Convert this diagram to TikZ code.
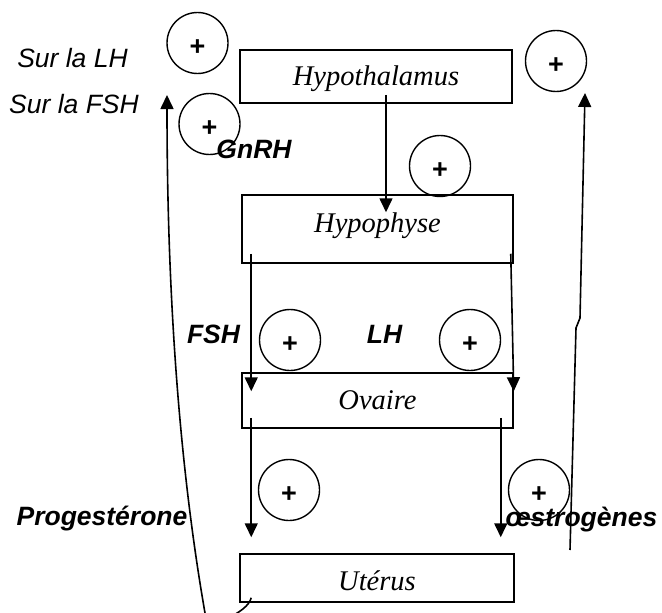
\documentclass[tikz,border=0pt]{standalone}
\usepackage{fontspec}
\setmainfont{Liberation Serif}
\setsansfont{Liberation Sans}
\usetikzlibrary{arrows.meta,calc}
\begin{document}
\begin{tikzpicture}[x=1pt,y=-1pt,
  box/.style={draw,line width=1.5pt,rectangle,inner sep=0pt,font=\fontsize{28.5}{30}\selectfont\itshape},
  pcirc/.style={draw,circle,line width=1.4pt,minimum size=61pt,inner sep=0pt,font=\fontsize{27}{28}\selectfont\sffamily\bfseries,text height=25pt,text depth=0pt},
  lab/.style={anchor=base,inner sep=0pt,font=\fontsize{26.5}{28}\selectfont\sffamily\itshape},
  blab/.style={anchor=base,inner sep=0pt,font=\fontsize{26.5}{28}\selectfont\sffamily\bfseries\itshape},
  arr/.style={line width=1.6pt,-{Triangle[width=13pt,length=14pt]}},
]
\useasboundingbox (0,0) rectangle (662,613);

% boxes
\node[box,minimum width=272pt,minimum height=53pt,text height=20pt,text depth=3pt] (hyth) at (376,76.5) {Hypothalamus};
\node[box,minimum width=271pt,minimum height=68pt,text height=20pt,text depth=14pt] (hyph) at (377.5,229) {Hypophyse};
\node[box,minimum width=271pt,minimum height=55pt,text height=20pt,text depth=3pt] (ova) at (377.5,400.5) {Ovaire};
\node[box,minimum width=274pt,minimum height=48pt,text height=26pt,text depth=2pt] (ut) at (377,578) {Utérus};

% plus circles
\node[pcirc] (c1) at (197.5,43) {+};
\node[pcirc] (c2) at (209.5,124) {+};
\node[pcirc] (c3) at (556,61) {+};
\node[pcirc] (c4) at (440,166) {+};
\node[pcirc] (c5) at (290,340) {+};
\node[pcirc] (c6) at (470,340) {+};
\node[pcirc] (c7) at (289,490) {+};
\node[pcirc] (c8) at (539,490) {+};

% labels
\node[lab] (surlh) at (72.5,67) {Sur la LH};
\node[lab] (surfsh) at (74,113) {Sur la FSH};
\node[blab] (gnrh) at (254,158) {GnRH};
\node[blab] (fsh) at (213.5,343) {FSH};
\node[blab] (lh) at (384.5,343) {LH};
\node[blab] (prog) at (102,525) {Progestérone};
\node[blab] (oes) at (581.5,526) {œstrogènes};

% main arrows
\draw[arr] ($(hyth.south)+(10,-9)$) -- ($(hyph.north)+(8.5,18)$);
\draw[arr] ($(hyph.south west)+(10,-10)$) -- ($(ova.north west)+(10,19)$);
\draw[arr] ($(hyph.south east)+(-3,-10)$) -- ($(ova.north east)+(0,19)$);
\draw[arr] ($(ova.south west)+(10,-11)$) -- ($(ut.north west)+(12,-16)$);
\draw[arr] ($(ova.south east)+(-13,-11)$) -- ($(ut.north east)+(-14,-16)$);

% right feedback
\coordinate (rfoot) at (570,550);
\coordinate (rkinka) at (576,328);
\coordinate (rkinkb) at (580,318);
\coordinate (rtop) at (585,93);
\draw[arr] (rfoot) -- (rkinka) -- (rkinkb) -- (rtop);

% left feedback
\coordinate (ltop) at (167,95);
\begin{scope}
\clip (0,0) rectangle (662,613);
\draw[arr] ($(ut.south west)+(12,-5)$) .. controls (249,606) and (240,612) .. (225,620)
  .. controls (212,627) and (206,622) .. (205,613)
  .. controls (180,470) and (167,300) .. (ltop);
\end{scope}
\end{tikzpicture}
\end{document}
